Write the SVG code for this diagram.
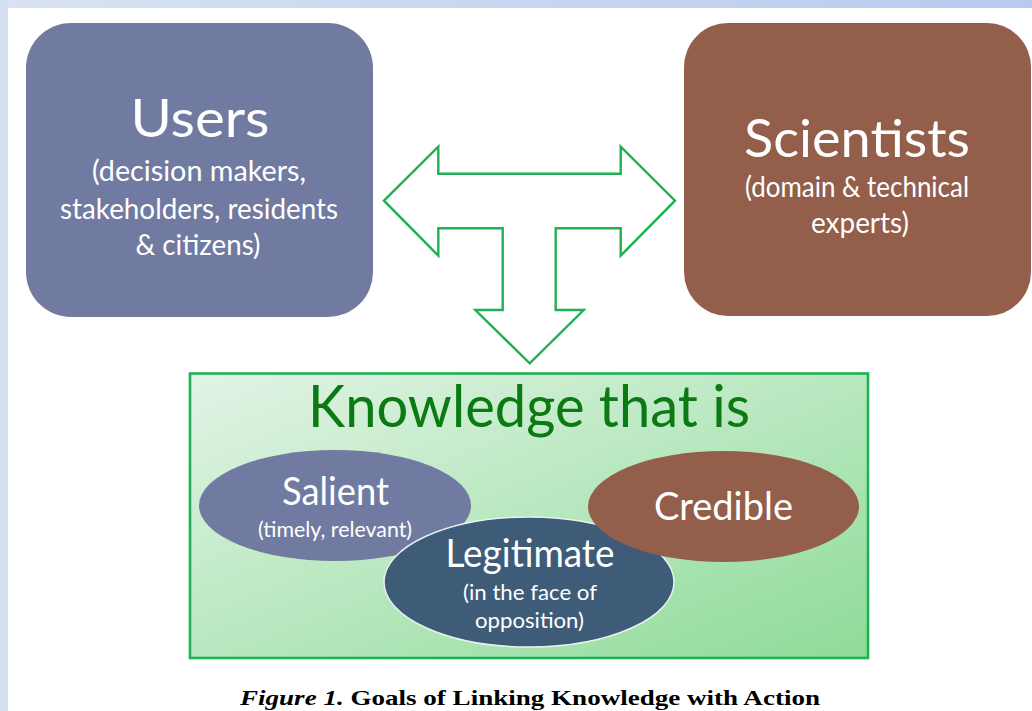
<svg xmlns="http://www.w3.org/2000/svg" width="1032" height="711" viewBox="0 0 1032 711">
  <defs>
    <linearGradient id="topband" x1="0" y1="0" x2="1" y2="0">
      <stop offset="0" stop-color="#d8e2f2"/>
      <stop offset="1" stop-color="#b6cbef"/>
    </linearGradient>
    <linearGradient id="greenfill" x1="0" y1="0" x2="1" y2="1">
      <stop offset="0" stop-color="#e2f4e6"/>
      <stop offset="1" stop-color="#8edb98"/>
    </linearGradient>
  </defs>
  <style>
    .sans { font-family: Lato, "Open Sans", "Liberation Sans", sans-serif; }
    .wt { fill: #ffffff; text-anchor: middle; }
    .title { font-size: 52px; }
    .sub { font-size: 28px; }
    .ell { font-size: 38px; }
    .small { font-size: 22px; }
    .purple { fill: #717aa0; }
    .brown { fill: #935e4a; }
    .navy { fill: #3e5b78; }
    .arrow { fill: #ffffff; stroke: #1fb153; stroke-width: 2.4; stroke-linejoin: miter; }
    .cap { font-family: "Liberation Serif", "DejaVu Serif", serif; font-size: 22px; font-weight: bold; fill: #000000; text-anchor: middle; }
  </style>

  <!-- page background -->
  <rect x="0" y="0" width="1032" height="711" fill="#ffffff"/>
  <rect x="0" y="0" width="1032" height="8" fill="url(#topband)"/>
  <rect x="0" y="0" width="8" height="711" fill="#d3dff0"/>

  <g id="users">
    <rect class="purple" x="26" y="23" width="347" height="294" rx="45" ry="45"/>
    <text class="sans wt title" x="200" y="137" textLength="139" lengthAdjust="spacingAndGlyphs">Users</text>
    <text class="sans wt sub" x="199" y="181" textLength="214" lengthAdjust="spacingAndGlyphs">(decision makers,</text>
    <text class="sans wt sub" x="199" y="219" textLength="278" lengthAdjust="spacingAndGlyphs">stakeholders, residents</text>
    <text class="sans wt sub" x="198" y="255" textLength="125" lengthAdjust="spacingAndGlyphs">&amp; citizens)</text>
  </g>

  <g id="scientists">
    <rect class="brown" x="684" y="23" width="347" height="293" rx="44" ry="44"/>
    <text class="sans wt title" x="857" y="157" textLength="226" lengthAdjust="spacingAndGlyphs">Scientists</text>
    <text class="sans wt sub" x="857" y="197" textLength="224" lengthAdjust="spacingAndGlyphs">(domain &amp; technical</text>
    <text class="sans wt sub" x="860" y="233" textLength="98" lengthAdjust="spacingAndGlyphs">experts)</text>
  </g>

  <g id="connectors">
    <path class="arrow" d="M384,200.7 L438.3,146.7 L438.3,173.7 L620.7,173.7 L620.7,146.7 L675,200.7 L620.7,255.7 L620.7,228.3 L555.7,228.3 L555.7,310 L583.7,310 L529.7,363.3 L475.3,310 L502.7,310 L502.7,228.3 L438.3,228.3 L438.3,255.7 Z"/>
  </g>

  <g id="knowledge">
    <rect x="190" y="373.5" width="678" height="284.5" fill="url(#greenfill)" stroke="#1fb153" stroke-width="2.6"/>
    <text class="sans" x="529" y="427" font-size="58" fill="#0b7a12" text-anchor="middle" textLength="442" lengthAdjust="spacingAndGlyphs">Knowledge that is</text>
  </g>

  <g id="salient">
    <ellipse class="purple" cx="335" cy="505.5" rx="136" ry="55.5"/>
    <text class="sans wt ell" x="335.5" y="505" textLength="107" lengthAdjust="spacingAndGlyphs">Salient</text>
    <text class="sans wt small" x="335" y="537" textLength="154" lengthAdjust="spacingAndGlyphs">(timely, relevant)</text>
  </g>

  <g id="legitimate">
    <ellipse class="navy" cx="529" cy="582" rx="145" ry="65" stroke="#e9f1ef" stroke-width="1.5"/>
    <text class="sans wt ell" x="530" y="567" textLength="169" lengthAdjust="spacingAndGlyphs">Legitimate</text>
    <text class="sans wt small" x="530" y="600" textLength="134" lengthAdjust="spacingAndGlyphs">(in the face of</text>
    <text class="sans wt small" x="529.5" y="628" textLength="109" lengthAdjust="spacingAndGlyphs">opposition)</text>
  </g>

  <g id="credible">
    <ellipse class="brown" cx="723.5" cy="506.5" rx="135.5" ry="55.5"/>
    <text class="sans wt ell" x="723.5" y="520" textLength="139" lengthAdjust="spacingAndGlyphs">Credible</text>
  </g>

  <g id="caption">
    <text class="cap" x="530" y="705" textLength="580" lengthAdjust="spacingAndGlyphs"><tspan font-style="italic">Figure 1.</tspan> Goals of Linking Knowledge with Action</text>
  </g>
</svg>
